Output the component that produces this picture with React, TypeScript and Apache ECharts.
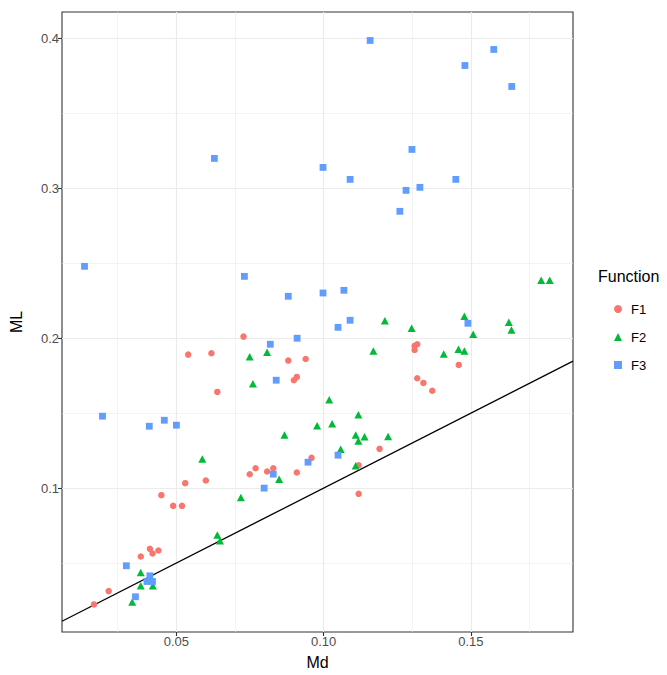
import React, { useEffect, useRef } from "react";
import * as echarts from "echarts";

const X_MIN = 0.01115;
const X_MAX = 0.1847;
const Y_MIN = 0.004;
const Y_MAX = 0.4177;

const xTicks = [0.05, 0.1, 0.15];
const yTicks = [0.1, 0.2, 0.3, 0.4];
const xMinor = [0.025, 0.075, 0.125, 0.175];
const yMinor = [0.05, 0.15, 0.25, 0.35];

const F1: [number, number][] = [
  [0.0728, 0.2011], [0.054, 0.1891], [0.0619, 0.19], [0.088, 0.1851], [0.0939, 0.1862],
  [0.0899, 0.172], [0.0909, 0.1742], [0.0639, 0.1642], [0.1309, 0.1949], [0.1318, 0.196],
  [0.1309, 0.1922], [0.1459, 0.1822], [0.1318, 0.1733], [0.1339, 0.1702], [0.1369, 0.165],
  [0.0959, 0.1202], [0.119, 0.1262], [0.1119, 0.1153], [0.1119, 0.0962], [0.0749, 0.1093],
  [0.0769, 0.1133], [0.0808, 0.1111], [0.0829, 0.1133], [0.0909, 0.1104], [0.053, 0.1033],
  [0.06, 0.1051], [0.0449, 0.0953], [0.0489, 0.0882], [0.0519, 0.0882], [0.041, 0.0595],
  [0.0419, 0.0564], [0.0439, 0.0584], [0.0379, 0.0544], [0.027, 0.0313], [0.022, 0.0224],
];

const F2: [number, number][] = [
  [0.0749, 0.1877], [0.0808, 0.1907], [0.076, 0.1697], [0.0867, 0.1355], [0.1739, 0.2387],
  [0.1768, 0.2387], [0.1208, 0.2117], [0.1299, 0.2067], [0.1478, 0.2147], [0.1508, 0.2027],
  [0.1629, 0.2107], [0.1638, 0.2055], [0.1169, 0.1915], [0.1408, 0.1895], [0.1458, 0.1927],
  [0.1478, 0.1915], [0.1019, 0.1589], [0.1118, 0.1489], [0.0978, 0.1417], [0.1029, 0.1429],
  [0.1109, 0.1355], [0.1139, 0.1342], [0.1219, 0.1344], [0.1118, 0.1315], [0.1058, 0.126],
  [0.1109, 0.115], [0.0588, 0.1195], [0.0849, 0.106], [0.0719, 0.0937], [0.0639, 0.0687],
  [0.0648, 0.0649], [0.0379, 0.0437], [0.0379, 0.0349], [0.042, 0.0349], [0.035, 0.024],
];

const F3: [number, number][] = [
  [0.0629, 0.32], [0.1158, 0.3987], [0.1578, 0.3927], [0.148, 0.382], [0.1639, 0.368],
  [0.13, 0.326], [0.0998, 0.314], [0.109, 0.306], [0.1449, 0.306], [0.1327, 0.3007],
  [0.128, 0.2987], [0.1259, 0.2847], [0.0188, 0.248], [0.0731, 0.2413], [0.088, 0.228],
  [0.091, 0.2], [0.0819, 0.196], [0.0839, 0.172], [0.0249, 0.148], [0.0408, 0.1413],
  [0.0459, 0.1453], [0.05, 0.142], [0.0998, 0.2302], [0.1069, 0.232], [0.109, 0.212],
  [0.1049, 0.2073], [0.149, 0.21], [0.0947, 0.1173], [0.1049, 0.122], [0.0829, 0.1093],
  [0.0798, 0.1], [0.033, 0.0482], [0.041, 0.0415], [0.04, 0.0377], [0.0419, 0.0377],
  [0.0361, 0.0275],
];

const abline: [number, number][] = [[X_MIN, X_MIN], [X_MAX, X_MAX]];

const FONT = "'Liberation Sans', Arial, Helvetica, sans-serif";
const COLORS = ["#F8766D", "#00BA38", "#619CFF"];

export default function App() {
  const ref = useRef<HTMLDivElement>(null);
  useEffect(() => {
    if (!ref.current) return;
    const chart = echarts.init(ref.current, null, { renderer: "svg" });
    const gridLines = [
      ...xMinor.map((v) => ({ xAxis: v, lineStyle: { width: 0.6 } })),
      ...yMinor.map((v) => ({ yAxis: v, lineStyle: { width: 0.6 } })),
      ...xTicks.map((v) => ({ xAxis: v, lineStyle: { width: 1.2 } })),
      ...yTicks.map((v) => ({ yAxis: v, lineStyle: { width: 1.2 } })),
    ];
    const axisCommon = {
      type: "value" as const,
      axisLine: { show: false },
      splitLine: { show: false },
      axisTick: { show: true, length: 4, lineStyle: { color: "#333333", width: 1.1 } },
      nameLocation: "middle" as const,
      nameTextStyle: { fontSize: 16, color: "#000", fontFamily: FONT },
    };
    chart.setOption({
      animation: false,
      textStyle: { fontFamily: FONT },
      grid: {
        left: 61, top: 12, right: 94, bottom: 43,
        show: true, borderColor: "#333333", borderWidth: 1.1, backgroundColor: "transparent",
      },
      xAxis: {
        ...axisCommon,
        min: X_MIN, max: X_MAX,
        name: "Md", nameGap: 22,
        axisTick: { ...axisCommon.axisTick, customValues: xTicks },
        axisLabel: {
          customValues: xTicks, formatter: (v: number) => v.toFixed(2),
          color: "#4d4d4d", fontSize: 13, margin: 3, fontFamily: FONT,
        },
      },
      yAxis: {
        ...axisCommon,
        min: Y_MIN, max: Y_MAX,
        name: "ML", nameGap: 38,
        axisTick: { ...axisCommon.axisTick, customValues: yTicks },
        axisLabel: {
          customValues: yTicks, formatter: (v: number) => v.toFixed(1),
          color: "#4d4d4d", fontSize: 13, margin: 3, fontFamily: FONT,
        },
      },
      legend: {
        orient: "vertical", left: 609, top: 296,
        itemWidth: 8, itemHeight: 8, itemGap: 12,
        data: ["F1", "F2", "F3"],
        textStyle: { fontSize: 13, color: "#000", fontFamily: FONT, lineHeight: 16, padding: [0, 0, 0, 4] },
        selectedMode: false,
      },
      graphic: [
        {
          type: "text", left: 598, top: 268,
          style: { text: "Function", fontSize: 16, fill: "#000", fontFamily: FONT },
        },
      ],
      series: [
        {
          type: "line", data: [], silent: true, z: 1,
          markLine: {
            z: 1, silent: true, symbol: "none", label: { show: false },
            lineStyle: { color: "#ebebeb", type: "solid" },
            data: gridLines,
          },
        },
        {
          type: "line", data: abline, showSymbol: false, silent: true, z: 2,
          lineStyle: { color: "#000", width: 1.3 }, clip: true,
        },
        {
          name: "F1", type: "scatter", data: F1, symbol: "circle", symbolSize: 6.5, z: 3,
          itemStyle: { color: COLORS[0], opacity: 1 },
        },
        {
          name: "F2", type: "scatter", data: F2, symbol: "triangle", symbolSize: [8, 7.5], z: 3,
          itemStyle: { color: COLORS[1], opacity: 1 },
        },
        {
          name: "F3", type: "scatter", data: F3, symbol: "rect", symbolSize: 6.8, z: 3,
          itemStyle: { color: COLORS[2], opacity: 1 },
        },
      ],
    });
    return () => chart.dispose();
  }, []);
  return (
    <div
      ref={ref}
      style={{ position: "fixed", left: 0, top: 0, width: 667, height: 675, background: "#fff" }}
    />
  );
}
